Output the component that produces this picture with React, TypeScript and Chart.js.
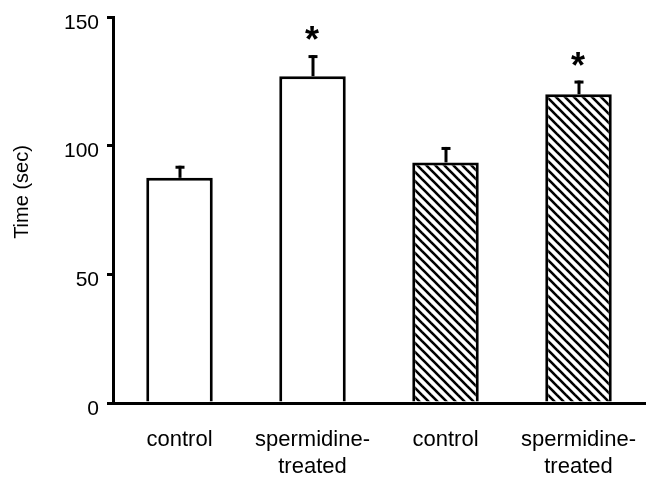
import React, { useEffect, useRef } from "react";
import { Chart, registerables } from "chart.js";

Chart.register(...registerables);

const categories: string[][] = [["control"], ["spermidine-", "treated"], ["control"], ["spermidine-", "treated"]];
const meanValues: number[] = [87.5, 127, 93.5, 120];
const errorValues: number[] = [4.7, 8.2, 6, 5.3];
const significant: boolean[] = [false, true, false, true];
const hatched: boolean[] = [false, false, true, true];
const yTicks: number[] = [0, 50, 100, 150];
const yTitle = "Time (sec)";

const FONT = "'Liberation Sans', Arial, sans-serif";

function makeHatch(): CanvasPattern | string {
  const c = document.createElement("canvas");
  const s = 9;
  c.width = s;
  c.height = s;
  const g = c.getContext("2d");
  if (!g) return "#fff";
  g.fillStyle = "#fff";
  g.fillRect(0, 0, s, s);
  g.strokeStyle = "#000";
  g.lineWidth = 2.6;
  for (let k = -1; k <= 1; k++) {
    g.beginPath();
    g.moveTo(k * s - 1, -1);
    g.lineTo(k * s + s + 1, s + 1);
    g.stroke();
  }
  return g.createPattern(c, "repeat") || "#fff";
}

const overlay = {
  id: "overlay",
  afterDatasetsDraw(chart: any) {
    const ctx = chart.ctx as CanvasRenderingContext2D;
    const meta = chart.getDatasetMeta(0);
    const y = chart.scales.y;
    ctx.save();
    ctx.strokeStyle = "#000";
    ctx.fillStyle = "#000";
    meta.data.forEach((bar: any, i: number) => {
      const x = Math.round(bar.x);
      const top = y.getPixelForValue(meanValues[i]);
      const et = y.getPixelForValue(meanValues[i] + errorValues[i]);
      ctx.lineWidth = 3;
      ctx.beginPath();
      ctx.moveTo(x, top);
      ctx.lineTo(x, et);
      ctx.stroke();
      ctx.beginPath();
      ctx.moveTo(x - 4.5, et + 1.5);
      ctx.lineTo(x + 4.5, et + 1.5);
      ctx.stroke();
      if (significant[i]) {
        ctx.font = "bold 36px " + FONT;
        ctx.textAlign = "center";
        ctx.textBaseline = "alphabetic";
        const m = ctx.measureText("*");
        const cy = et - 22;
        const base = cy + (m.actualBoundingBoxAscent - m.actualBoundingBoxDescent) / 2;
        ctx.fillText("*", x - 1, base);
      }
    });
    // y axis title
    ctx.translate(22, 192);
    ctx.rotate(-Math.PI / 2);
    ctx.font = "20px " + FONT;
    ctx.textAlign = "center";
    ctx.textBaseline = "middle";
    ctx.fillText(yTitle, 0, 0);
    ctx.restore();
  },
};

export default function App() {
  const ref = useRef<HTMLCanvasElement | null>(null);
  useEffect(() => {
    if (!ref.current) return;
    const pattern = makeHatch();
    const chart = new Chart(ref.current, {
      type: "bar",
      data: {
        labels: categories,
        datasets: [
          {
            data: meanValues,
            backgroundColor: hatched.map((h) => (h ? pattern : "#ffffff")) as any,
            borderColor: "#000",
            borderWidth: 3,
            borderSkipped: "bottom",
            barPercentage: 0.5,
            categoryPercentage: 1,
          },
        ],
      },
      options: {
        animation: false,
        responsive: false,
        layout: { padding: { left: 0, top: 17, right: 10, bottom: 0 } },
        plugins: { legend: { display: false }, tooltip: { enabled: false } },
        scales: {
          x: {
            grid: { display: false, drawTicks: false },
            border: { color: "#000", width: 3 },
            ticks: {
              color: "#000",
              font: { family: FONT, size: 22, lineHeight: 1.2 },
              padding: 24,
              maxRotation: 0,
              autoSkip: false,
            },
            afterFit: (s: any) => {
              s.height = 74;
              s.paddingLeft = 0;
              s.paddingRight = 0;
            },
          },
          y: {
            min: 0,
            max: 150,
            afterBuildTicks: (s: any) => {
              s.ticks = yTicks.map((v) => ({ value: v }));
            },
            grid: { drawOnChartArea: false, color: "#000", tickLength: 6, tickWidth: 3, lineWidth: 3 },
            border: { color: "#000", width: 3 },
            ticks: {
              color: "#000",
              font: { family: FONT, size: 21 },
              padding: 8,
              labelOffset: 6,
            },
            afterFit: (s: any) => {
              s.width = 113;
              s.paddingTop = 0;
              s.paddingBottom = 0;
            },
          },
        },
      } as any,
      plugins: [overlay],
    });
    return () => chart.destroy();
  }, []);
  return (
    <div style={{ position: "absolute", left: 0, top: 0, width: 655, height: 477, background: "#fff" }}>
      <canvas ref={ref} width={655} height={477} />
    </div>
  );
}
